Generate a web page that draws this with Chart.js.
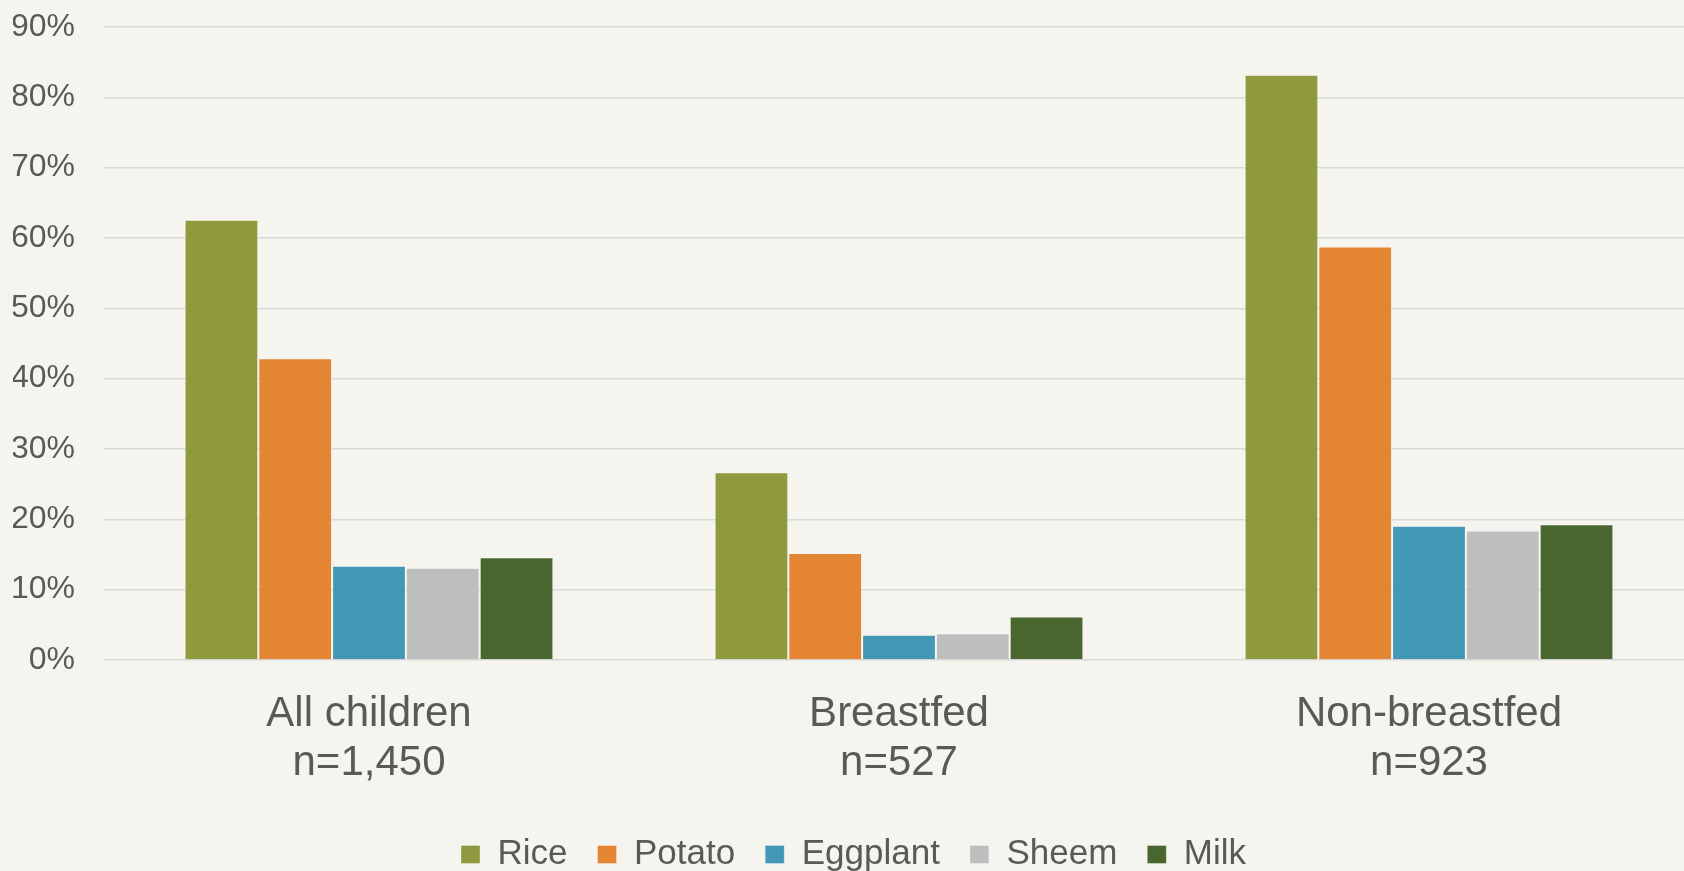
<!DOCTYPE html>
<html>
<head>
<meta charset="utf-8">
<script src="https://cdn.jsdelivr.net/npm/chart.js@4/dist/chart.umd.min.js"></script>
<style>
  html, body { margin: 0; padding: 0; background: #F5F4EF; overflow: hidden; }
  #wrap { width: 1694px; height: 871px; position: relative; }
</style>
</head>
<body>
<div id="wrap"><canvas id="c"></canvas></div>
<script>
const categoryNames = ['All children', 'Breastfed', 'Non-breastfed'];
const sampleSizes = ['n=1,450', 'n=527', 'n=923'];
const seriesNames = ['Rice', 'Potato', 'Eggplant', 'Sheem', 'Milk'];
const rice = [62.6, 26.7, 83.2];
const potato = [42.9, 15.2, 58.8];
const eggplant = [13.4, 3.6, 19.1];
const sheem = [13.1, 3.8, 18.4];
const milk = [14.6, 6.2, 19.3];
const yTickValues = [0, 10, 20, 30, 40, 50, 60, 70, 80, 90];
const yTickLabels = ['0%', '10%', '20%', '30%', '40%', '50%', '60%', '70%', '80%', '90%'];
const colors = ['#8F9A3F', '#E38533', '#4398B5', '#BEBEBE', '#49662F'];

const seriesValues = [rice, potato, eggplant, sheem, milk];
const labels = categoryNames.map((c, i) => [c, sampleSizes[i]]);

const TEXT = '#595959';
const FONT = "'Liberation Sans', Arial, sans-serif";

new Chart(document.getElementById('c'), {
  type: 'bar',
  data: {
    labels: labels,
    datasets: seriesNames.map((name, i) => ({
      label: name,
      data: seriesValues[i],
      backgroundColor: colors[i],
      borderColor: 'rgba(255,255,255,0.3)',
      borderWidth: 1,
      categoryPercentage: 0.696,
      barPercentage: 1.0
    }))
  },
  options: {
    responsive: true,
    maintainAspectRatio: false,
    animation: false,
    layout: { padding: { left: 13, right: 0, top: 0, bottom: -11 } },
    plugins: {
      tooltip: { enabled: false },
      legend: {
        position: 'bottom',
        labels: {
          color: TEXT,
          font: { family: FONT, size: 35 },
          boxWidth: 19,
          boxHeight: 18,
          padding: 30
        }
      }
    },
    scales: {
      x: {
        grid: { display: false },
        border: { display: false },
        ticks: {
          color: TEXT,
          font: { family: FONT, size: 42, lineHeight: 1.17 },
          padding: 22,
          maxRotation: 0
        },
        afterFit: (scale) => { scale.height = 147; }
      },
      y: {
        min: 0,
        max: 90,
        afterBuildTicks: (scale) => { scale.ticks = yTickValues.map(v => ({ value: v })); },
        grid: { color: '#D9D9D9', lineWidth: 1.5, drawTicks: false },
        border: { display: false },
        ticks: {
          color: TEXT,
          font: { family: FONT, size: 32 },
          padding: 29,
          callback: (v) => yTickLabels[yTickValues.indexOf(v)]
        },
        afterFit: (scale) => { scale.width = 91; scale.paddingTop = 27; }
      }
    }
  }
});
</script>
</body>
</html>
